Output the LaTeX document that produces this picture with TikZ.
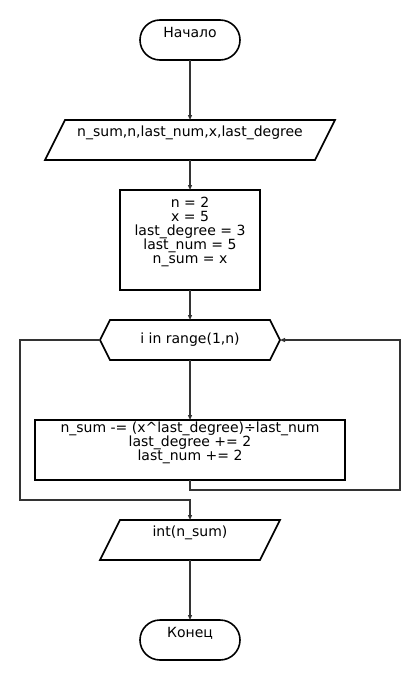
\documentclass[tikz,border=0pt]{standalone}
\usepackage{fontspec}
\setmainfont{DejaVu Sans}
\usetikzlibrary{arrows.meta,calc}
\begin{document}
\begin{tikzpicture}[x=1pt,y=-1pt,
  shapebox/.style={rectangle,inner sep=0pt,outer sep=0pt},
  frame/.style={draw=black,line width=1.6pt,line join=miter},
  txt/.style={inner sep=0pt,outer sep=0pt,font=\fontsize{14}{14}\selectfont,align=center},
  conn/.style={draw=black!80,line width=1.1pt,-{Triangle[length=5pt,width=4pt]}}
]
\useasboundingbox[fill=white] (0,0) rectangle (420,680);
% shapes
\node[shapebox,frame,rounded corners=20pt,minimum width=100pt,minimum height=40pt] (start) at (190,40) {};
\node[shapebox,minimum width=290pt,minimum height=40pt] (inp) at (190,140) {};
\draw[frame] ($(inp.north west)+(20,0)$) -- (inp.north east) -- ($(inp.south east)+(-20,0)$) -- (inp.south west) -- cycle;
\node[shapebox,frame,minimum width=140pt,minimum height=100pt] (init) at (190,240) {};
\node[shapebox,minimum width=180pt,minimum height=40pt] (loop) at (190,340) {};
\draw[frame] ($(loop.north west)+(10,0)$) -- ($(loop.north east)+(-10,0)$) -- (loop.east) -- ($(loop.south east)+(-10,0)$) -- ($(loop.south west)+(10,0)$) -- (loop.west) -- cycle;
\node[shapebox,frame,minimum width=310pt,minimum height=60pt] (body) at (190,450) {};
\node[shapebox,minimum width=180pt,minimum height=40pt] (out) at (190,540) {};
\draw[frame] ($(out.north west)+(20,0)$) -- (out.north east) -- ($(out.south east)+(-20,0)$) -- (out.south west) -- cycle;
\node[shapebox,frame,rounded corners=20pt,minimum width=100pt,minimum height=40pt] (stop) at (190,640) {};
% texts
\node[txt] (tstart) at (190,32) {Начало};
\node[txt] (tinp) at (190,133) {n\_sum,n,last\_num,x,last\_degree};
\node[txt] (tinit) at (190,232) {n = 2\\x = 5\\last\_degree = 3\\last\_num = 5\\n\_sum = x};
\node[txt] (tloop) at (190,340) {i in range(1,n)};
\node[txt] (tbody) at (190,443) {n\_sum -= (x\textasciicircum last\_degree)÷last\_num\\last\_degree += 2\\last\_num += 2};
\node[txt] (tout) at (190,533) {int(n\_sum)};
\node[txt] (tstop) at (190,633) {Конец};
% connectors
\coordinate (r1) at (400,490);
\coordinate (l1) at (20,500);
\draw[conn] (start.south) -- (inp.north);
\draw[conn] (inp.south) -- (init.north);
\draw[conn] (init.south) -- (loop.north);
\draw[conn] (loop.south) -- (body.north);
\draw[conn] (body.south) |- (r1) |- (loop.east);
\draw[conn] (loop.west) -| (l1) -| (out.north);
\draw[conn] (out.south) -- (stop.north);
\end{tikzpicture}
\end{document}
